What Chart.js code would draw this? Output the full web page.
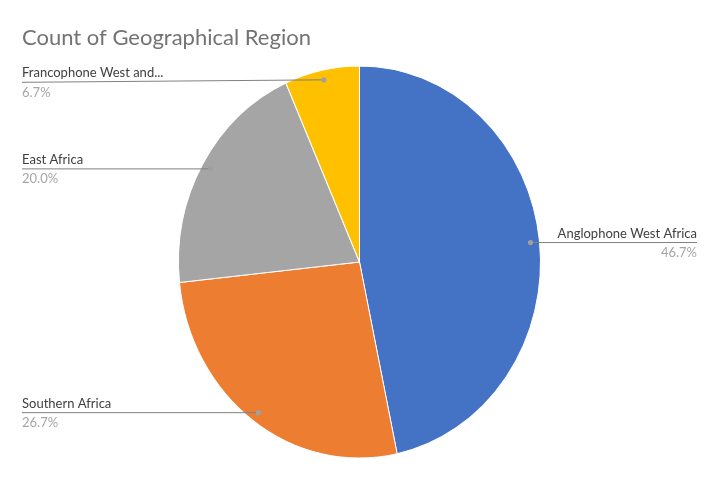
<!DOCTYPE html>
<html><head><meta charset="utf-8">
<script src="https://cdn.jsdelivr.net/npm/chart.js@4.4.0/dist/chart.umd.min.js"></script>
<style>html,body{margin:0;padding:0;background:#fff;} #wrap{width:719px;height:481px;position:relative;}</style>
</head><body><div id="wrap"><canvas id="c"></canvas></div>
<script>
const categories = ['Anglophone West Africa', 'Southern Africa', 'East Africa', 'Francophone West and...'];
const counts = [7, 4, 3, 1];
const percentLabels = ['46.7%', '26.7%', '20.0%', '6.7%'];
const colors = ['#4472C4', '#ED7D31', '#A5A5A5', '#FFC000'];
const titleText = 'Count of Geographical Region';

const Y_STRETCH = 195.5 / 180.5;

const stretch = {
  id: 'stretch',
  beforeDatasetsDraw(chart) {
    const el = chart.getDatasetMeta(0).data[0];
    const ctx = chart.ctx;
    ctx.save();
    ctx.translate(el.x, el.y);
    ctx.scale(1, Y_STRETCH);
    ctx.translate(-el.x, -el.y);
  },
  afterDatasetsDraw(chart) { chart.ctx.restore(); }
};

const sliceLabels = {
  id: 'sliceLabels',
  afterDatasetsDraw(chart) {
    const ctx = chart.ctx;
    const meta = chart.getDatasetMeta(0);
    const leftX = chart.chartArea.left;
    const rightX = chart.width - chart.chartArea.left;
    meta.data.forEach((el, i) => {
      const mid = (el.startAngle + el.endAngle) / 2;
      const r = el.outerRadius * 0.95;
      const dx = el.x + Math.cos(mid) * r;
      const dy = el.y + Math.sin(mid) * r * Y_STRETCH;
      const right = Math.cos(mid) > 0;
      const ly = right ? dy : Math.max(dy, 82.3);
      ctx.save();
      ctx.strokeStyle = '#808080';
      ctx.lineWidth = 1;
      ctx.beginPath();
      if (right) { ctx.moveTo(dx, dy); ctx.lineTo(rightX, ly); }
      else { ctx.moveTo(leftX, ly); ctx.lineTo(dx, dy); }
      ctx.stroke();
      ctx.fillStyle = '#a0a0a0';
      ctx.beginPath();
      ctx.arc(dx, dy, 2.6, 0, Math.PI * 2);
      ctx.fill();
      ctx.textBaseline = 'alphabetic';
      ctx.textAlign = right ? 'right' : 'left';
      const tx = right ? rightX : leftX;
      ctx.font = '13px Lato';
      ctx.fillStyle = '#404040';
      ctx.fillText(categories[i], tx, ly - 5);
      ctx.fillStyle = '#a6a6a6';
      ctx.fillText(percentLabels[i], tx, ly + 14.5);
      ctx.restore();
    });
  }
};

new Chart(document.getElementById('c'), {
  type: 'pie',
  data: {
    labels: categories,
    datasets: [{
      data: counts,
      backgroundColor: colors,
      borderColor: '#ffffff',
      borderWidth: 1,
      clip: false
    }]
  },
  options: {
    responsive: true,
    maintainAspectRatio: false,
    animation: false,
    layout: { padding: { left: 22, right: 22, top: 0, bottom: 37.5 } },
    plugins: {
      legend: { display: false },
      tooltip: { enabled: false },
      title: {
        display: true,
        text: titleText,
        align: 'start',
        color: '#737373',
        font: { family: 'Lato', size: 22, weight: 'normal', lineHeight: 1.2 },
        padding: { top: 24.7, bottom: 29.4 }
      }
    }
  },
  plugins: [stretch, sliceLabels]
});
</script>
</body></html>
